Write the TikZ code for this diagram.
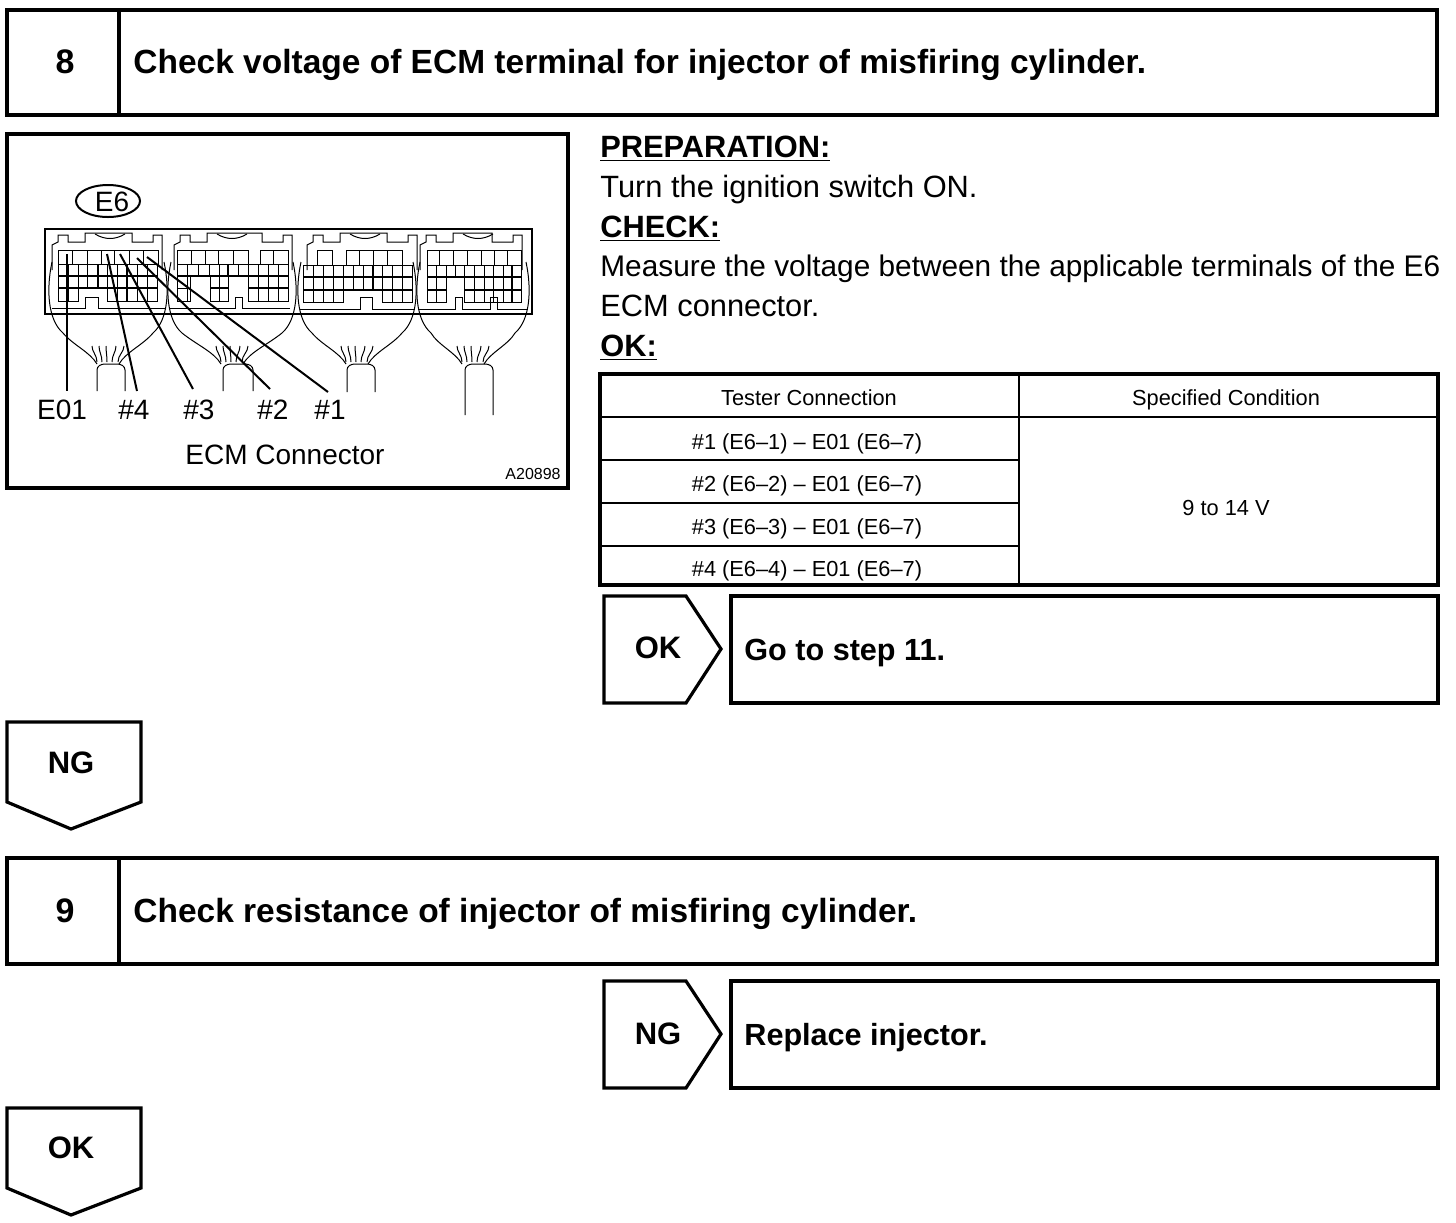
\documentclass[tikz,border=0pt]{standalone}
\usepackage{fontspec}
\setmainfont{Liberation Sans}
\tikzset{
  boxline/.style={line width=1.6pt, line join=miter},
  tableline/.style={line width=1.1pt},
  thinline/.style={line width=0.5pt},
  midline/.style={line width=1pt},
  headtext/.style={anchor=base west, inner sep=0pt, font=\bfseries\fontsize{16.75}{20}\selectfont},
  nametext/.style={anchor=base west, inner sep=0pt, font=\bfseries\fontsize{15.3}{18}\selectfont},
  steptext/.style={inner sep=0pt, font=\bfseries\fontsize{17}{20}\selectfont},
  tagtext/.style={inner sep=0pt, font=\bfseries\fontsize{15.5}{18}\selectfont},
  bodytext/.style={anchor=base west, inner sep=0pt, font=\fontsize{15.4}{20}\selectfont},
  cellA/.style={anchor=base, inner sep=0pt, font=\fontsize{10.9}{13}\selectfont},
  lblA/.style={anchor=base, inner sep=0pt, font=\fontsize{14}{17}\selectfont},
}
% one row of cells of the connector face
\newcommand{\ecmcells}[4]{%
  \foreach \xc [remember=\xc as \xp (initially #3)] in {#4}
    \draw[thinline] (\xp,#1) rectangle (\xc,#2);}
\begin{document}
\begin{tikzpicture}[x=0.5pt,y=-0.5pt]
  \useasboundingbox (0,0) rectangle (1456,1222);

  % step 8
  \draw[boxline] (7,10) rectangle (1437,115);
  \draw[boxline] (119,10) -- (119,115);
  \node[steptext] (numeight) at (65,62) {8};
  \node[headtext] (headeight) at (133,73) {Check voltage of ECM terminal for injector of misfiring cylinder.};

  % connector picture
  \draw[boxline] (7,134) rectangle (568,488);
  \draw[midline] (108,201) ellipse (32 and 16);
  \node[lblA] (plugname) at (112,211) {E6};
  \draw[line width=1.2pt] (45,229) rectangle (532,314);
  \foreach \ox/\oe/\cx/\hw/\lw/\cl/\cb in {0/0/108/58/97/125/391, 122/8/232/63/223/253/391, 255/0/357/58/347/375/392, 368/-8/473/55/465/493/415} {
    \draw[thinline] (52+\ox,270) -- (52+\ox,245) -- (58+\ox,242) -- (58+\ox,235) -- (68+\ox,235) -- (68+\ox,242)
      -- (85+\ox,242) -- (85+\ox,233) -- (132+\ox+\oe,233) -- (132+\ox+\oe,242) -- (153+\ox+\oe,242)
      -- (153+\ox+\oe,235) -- (162+\ox+\oe,235) -- (162+\ox+\oe,270);
    \draw[thinline] (95+\ox,234) .. controls (105+\ox,240) and (115+\ox,240) .. (125+\ox,234);
    \draw[thinline] (\cx-\hw+2,262) .. controls (\cx-\hw-4,290) and (\cx-\hw-2,320) .. (\cx-\hw+13,333)
      .. controls (\cx-35,345) and (\cx-18,352) .. (\cx-11,364);
    \draw[thinline] (\cx+\hw-2,262) .. controls (\cx+\hw+4,290) and (\cx+\hw+2,320) .. (\cx+\hw-13,333)
      .. controls (\cx+35,345) and (\cx+18,352) .. (\cx+11,364);
    \draw[thinline] (\lw,\cb) -- (\lw,370) .. controls (\lw,366) and (\lw+4,364) .. (\lw+8,364)
      -- (\cl-8,364) .. controls (\cl-4,364) and (\cl,366) .. (\cl,370) -- (\cl,\cb);
    \foreach \wa/\wb in {-11/-16,-6/-9,-1/-2,4/8,10/16}
      \draw[thinline] (\cx+\wa,362) .. controls (\cx+\wa,355) and (\cx+\wb,352) .. (\cx+\wb,346);
  }
  % face of plug 1
  \ecmcells{250}{264}{58}{72,87,101,114,129,143,158}
  \ecmcells{264}{276}{58}{68,78,87,98,107,117,127,137,147,157}
  \ecmcells{276}{288}{58}{68,78,87,98,107,117,127,137,147,157}
  \ecmcells{288}{301}{58}{68,78}
  \ecmcells{288}{301}{107}{117,127,137,147,157}
  \draw[thinline] (52,308) -- (85,308) -- (85,297) -- (98,297) -- (98,308) -- (165,308);
  \draw[midline] (58,276) -- (157,276) (58,288) -- (157,288) (98,264) -- (98,288) (127,264) -- (127,301);
  % face of plug 2
  \ecmcells{250}{264}{177}{191,205,218,233,248}
  \ecmcells{250}{264}{260}{273,288}
  \ecmcells{264}{276}{177}{187,198,209,219,228,238,248,258,268,278,288}
  \ecmcells{276}{288}{177}{187,190}
  \ecmcells{276}{288}{210}{219,228}
  \ecmcells{276}{288}{248}{258,268,278,288}
  \ecmcells{288}{301}{177}{187,190}
  \ecmcells{288}{301}{210}{219,228}
  \ecmcells{288}{301}{248}{258,268,278,288}
  \draw[thinline] (170,308) -- (235,308) -- (235,297) -- (242,297) -- (242,308) -- (290,308);
  \draw[midline] (177,276) -- (288,276) (210,288) -- (228,288) (248,288) -- (288,288) (228,264) -- (228,276);
  % face of plug 3
  \ecmcells{250}{265}{317}{332}
  \ecmcells{250}{265}{346}{359,373,387,402}
  \ecmcells{265}{277}{303}{313,323,333,343,353,363,373,382,392,402,412}
  \ecmcells{277}{290}{303}{313,323,333,343,353,363,373,382,392,402,412}
  \ecmcells{290}{302}{303}{313,323,333,343}
  \ecmcells{290}{302}{382}{392,402,412}
  \draw[thinline] (300,309) -- (360,309) -- (360,297) -- (372,297) -- (372,309) -- (415,309);
  \draw[midline] (303,277) -- (412,277) (303,290) -- (412,290) (373,265) -- (373,290);
  % face of plug 4
  \ecmcells{250}{265}{427}{439,453,467,481,494,507,521}
  \ecmcells{265}{277}{427}{436,446,455,464,474,484,493,503,512,521}
  \ecmcells{277}{290}{427}{436,446}
  \ecmcells{277}{290}{464}{474,484,493,503,512,521}
  \ecmcells{290}{302}{427}{436,446}
  \ecmcells{290}{302}{464}{474,484,493,503,512,521}
  \draw[thinline] (418,309) -- (455,309) -- (455,297) -- (462,297) -- (462,309) -- (490,309) -- (490,297) -- (497,297) -- (497,309) -- (528,309);
  \draw[midline] (427,277) -- (521,277) (464,290) -- (521,290) (427,290) -- (446,290) (512,265) -- (512,302);

  % leaders
  \node[lblA] (lblE) at (62,419) {E01};
  \node[lblA] (lblfour) at (134,419) {\#4};
  \node[lblA] (lblthree) at (199,419) {\#3};
  \node[lblA] (lbltwo) at (273,419) {\#2};
  \node[lblA] (lblone) at (330,419) {\#1};
  \coordinate (pinE) at (67,254);
  \coordinate (pinfour) at (107,254);
  \coordinate (pinthree) at (120,254);
  \coordinate (pintwo) at (137,258);
  \coordinate (pinone) at (147,257);
  \coordinate (endE) at (67,391);
  \coordinate (endfour) at (137,391);
  \coordinate (endthree) at (193,389);
  \coordinate (endtwo) at (270,389);
  \coordinate (endone) at (328,392);
  \foreach \pa/\pb in {pinE/endE,pinfour/endfour,pinthree/endthree,pintwo/endtwo,pinone/endone}
    \draw[line width=1pt] (\pa) -- (\pb);
  \node[lblA] (plugcap) at (285,464) {ECM Connector};
  \node[inner sep=0pt, anchor=base east, font=\fontsize{8}{10}\selectfont] (figno) at (561,479) {A20898};

  % instructions
  \node[bodytext] (prep) at (600,157) {\textbf{\underline{PREPARATION:}}};
  \node[bodytext] (turn) at (600,197) {Turn the ignition switch ON.};
  \node[bodytext] (check) at (600,237) {\textbf{\underline{CHECK:}}};
  \node[bodytext, font=\fontsize{14.9}{20}\selectfont] (meas) at (600,276) {Measure the voltage between the applicable terminals of the E6};
  \node[bodytext] (ecm) at (600,316) {ECM connector.};
  \node[bodytext] (okhead) at (600,356) {\textbf{\underline{OK:}}};

  % table
  \draw[boxline] (600,374) rectangle (1438,585);
  \draw[tableline] (1019,374) -- (1019,585);
  \draw[tableline] (600,417) -- (1438,417);
  \foreach \ry in {460,503,546}
    \draw[tableline] (600,\ry) -- (1019,\ry);
  \node[cellA] (tester) at (809,405) {Tester Connection};
  \node[cellA] (spec) at (1226,405) {Specified Condition};
  \node[cellA] (rowone) at (807,449) {\#1 (E6–1) – E01 (E6–7)};
  \node[cellA] (rowtwo) at (807,491) {\#2 (E6–2) – E01 (E6–7)};
  \node[cellA] (rowthree) at (807,534) {\#3 (E6–3) – E01 (E6–7)};
  \node[cellA] (rowfour) at (807,576) {\#4 (E6–4) – E01 (E6–7)};
  \node[cellA] (volt) at (1226,515) {9 to 14 V};

  % OK branch
  \draw[boxline] (604,596) -- (686,596) -- (721,649) -- (686,703) -- (604,703) -- cycle;
  \node[tagtext] (okone) at (658,648) {OK};
  \draw[boxline] (731,596) rectangle (1438,703);
  \node[nametext] (gostep) at (744,660) {Go to step 11.};

  % NG down
  \draw[boxline] (7,722) -- (141,722) -- (141,802) -- (71,829) -- (7,802) -- cycle;
  \node[tagtext] (ngone) at (71,763) {NG};

  % step 9
  \draw[boxline] (7,858) rectangle (1437,964);
  \draw[boxline] (119,858) -- (119,964);
  \node[steptext] (numnine) at (65,911) {9};
  \node[headtext] (headnine) at (133,922) {Check resistance of injector of misfiring cylinder.};

  % NG branch
  \draw[boxline] (604,981) -- (686,981) -- (721,1034) -- (686,1088) -- (604,1088) -- cycle;
  \node[tagtext] (ngtwo) at (658,1034) {NG};
  \draw[boxline] (731,981) rectangle (1438,1088);
  \node[nametext] (replace) at (744,1045) {Replace injector.};

  % OK down
  \draw[boxline] (7,1108) -- (141,1108) -- (141,1188) -- (71,1215) -- (7,1188) -- cycle;
  \node[tagtext] (oktwo) at (71,1148) {OK};
\end{tikzpicture}
\end{document}
